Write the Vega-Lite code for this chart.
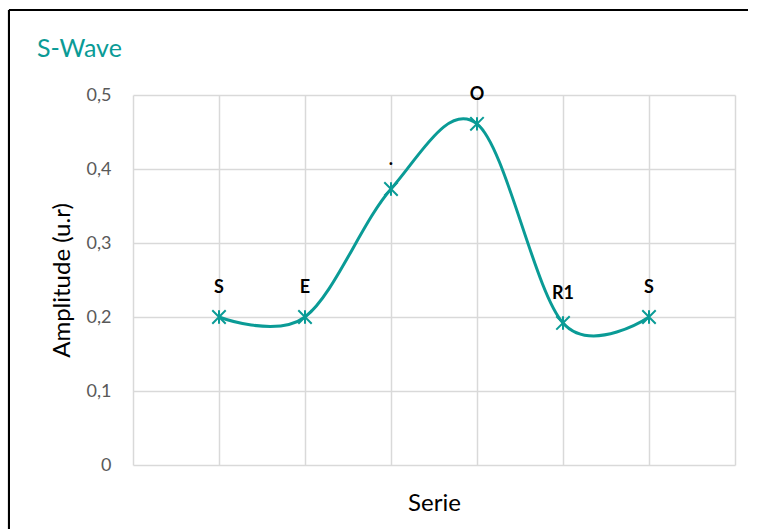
{
  "$schema": "https://vega.github.io/schema/vega-lite/v6.json",
  "autosize": {"type": "none"},
  "width": 602,
  "height": 370,
  "padding": {"left": 133, "top": 95, "right": 22, "bottom": 65},
  "background": "white",
  "title": {
    "text": "S-Wave",
    "anchor": "start",
    "frame": "group",
    "dx": -96,
    "offset": -53,
    "font": "Lato",
    "fontSize": 25,
    "fontWeight": "normal",
    "color": "#0A9B96"
  },
  "config": {
    "view": {"stroke": null},
    "axis": {
      "domain": false,
      "ticks": false,
      "gridColor": "#D9D9D9",
      "gridWidth": 1.5,
      "labelFont": "Lato",
      "titleFont": "Lato",
      "titleFontWeight": "normal",
      "titleColor": "#000000"
    }
  },
  "data": {
    "values": [
      {"pos": 1, "label": "S", "amp": 0.2},
      {"pos": 2, "label": "E", "amp": 0.2},
      {"pos": 3, "label": ".", "amp": 0.373},
      {"pos": 4, "label": "O", "amp": 0.461},
      {"pos": 5, "label": "R1", "amp": 0.192},
      {"pos": 6, "label": "S", "amp": 0.2}
    ]
  },
  "encoding": {
    "x": {
      "field": "pos",
      "type": "quantitative",
      "scale": {"domain": [0, 7], "nice": false, "zero": false},
      "axis": {
        "values": [0, 1, 2, 3, 4, 5, 6, 7],
        "labels": false,
        "title": "Serie",
        "titleFontSize": 24,
        "titlePadding": 26
      }
    },
    "y": {
      "field": "amp",
      "type": "quantitative",
      "scale": {"domain": [0, 0.5], "nice": false},
      "axis": {
        "values": [0, 0.1, 0.2, 0.3, 0.4, 0.5],
        "labelExpr": "replace(format(datum.value, '.1~f'), '.', ',')",
        "labelFontSize": 18,
        "labelColor": "#595959",
        "labelPadding": 22,
        "title": "Amplitude (u.r)",
        "titleFontSize": 24,
        "titleX": -71,
        "titleY": 185,
        "titleBaseline": "middle",
        "titleAlign": "center",
        "titleAngle": -90
      }
    }
  },
  "layer": [
    {
      "mark": {"type": "line", "interpolate": "cardinal", "tension": 0, "color": "#0A9B96", "strokeWidth": 3},
      "encoding": {}
    },
    {
      "mark": {
        "type": "point",
        "shape": "M-1,-1L1,1M-1,1L1,-1M0,-1L0,1",
        "size": 180,
        "filled": false,
        "stroke": "#0A9B96",
        "strokeWidth": 2,
        "opacity": 1
      }
    },
    {
      "mark": {
        "type": "text",
        "dy": -29,
        "baseline": "middle",
        "align": "center",
        "font": "Lato",
        "fontSize": 18,
        "fontWeight": "bold",
        "color": "#000000"
      },
      "encoding": {"text": {"field": "label"}}
    },
    {
      "mark": {"type": "rule", "stroke": "#000000", "strokeWidth": 2, "clip": false},
      "encoding": {
        "x": {"datum": -1.442, "type": "quantitative"},
        "y": {"datum": 0.6149, "type": "quantitative"},
        "y2": {"datum": -0.0865}
      }
    },
    {
      "mark": {"type": "rule", "stroke": "#000000", "strokeWidth": 2, "clip": false},
      "encoding": {
        "y": {"datum": 0.6149, "type": "quantitative"},
        "x": {"datum": -1.442, "type": "quantitative"},
        "x2": {"datum": 7.15}
      }
    }
  ]
}
